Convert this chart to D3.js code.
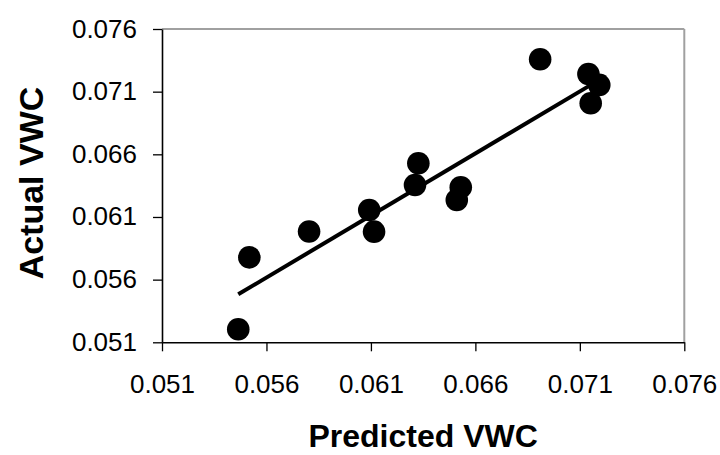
<!DOCTYPE html>
<html><head><meta charset="utf-8">
<script src="https://cdn.jsdelivr.net/npm/d3@7"></script>
<style>html,body{margin:0;padding:0;background:#fff;}svg{display:block;}</style>
</head><body>
<script>
const predicted = [0.05465,0.05518,0.05804,0.06092,0.06115,0.06327,0.06311,0.06530,0.06511,0.06910,0.07141,0.07193,0.07152];
const actual    = [0.05204,0.05778,0.05984,0.06156,0.05983,0.06529,0.06355,0.06337,0.06236,0.07359,0.07241,0.07154,0.07007];
const trendX = [0.05465, 0.07193];
const trendY = [0.05483, 0.07194];
const tickValues = [0.051,0.056,0.061,0.066,0.071,0.076];
const tickLabels = ["0.051","0.056","0.061","0.066","0.071","0.076"];

const W=720,H=455;
const L=162,R=684.3,T=29,B=342.3;
const svg=d3.select("body").append("svg").attr("width",W).attr("height",H);
const x=d3.scaleLinear().domain([0.051,0.076]).range([L,R]);
const y=d3.scaleLinear().domain([0.051,0.076]).range([B,T]);
const font="Liberation Sans, Arial, sans-serif";

// frame top/right gray
svg.append("line").attr("x1",L).attr("x2",R).attr("y1",T).attr("y2",T).attr("stroke","#a0a0a0").attr("stroke-width",2);
svg.append("line").attr("x1",R).attr("x2",R).attr("y1",T).attr("y2",B).attr("stroke","#a0a0a0").attr("stroke-width",2);

const xAxis=svg.append("g").attr("transform",`translate(0,${B})`)
  .call(d3.axisBottom(x).tickValues(tickValues).tickFormat((d,i)=>tickLabels[i]).tickSize(9).tickSizeOuter(0).tickPadding(14));
const yAxis=svg.append("g").attr("transform",`translate(${L},0)`)
  .call(d3.axisLeft(y).tickValues(tickValues).tickFormat((d,i)=>tickLabels[i]).tickSize(9).tickSizeOuter(0).tickPadding(16));
[xAxis,yAxis].forEach(g=>{
  g.select(".domain").attr("stroke","#000").attr("stroke-width",1.6);
  g.selectAll(".tick line").attr("stroke","#000").attr("stroke-width",1.3);
  g.selectAll(".tick text").attr("font-family",font).attr("font-size",26).attr("fill","#000");
});
xAxis.selectAll(".tick text").attr("y",51).attr("dy",0);
yAxis.selectAll(".tick text").attr("dy",8);

// trend line
svg.append("line")
  .attr("x1",x(trendX[0])).attr("y1",y(trendY[0]))
  .attr("x2",x(trendX[1])).attr("y2",y(trendY[1]))
  .attr("stroke","#000").attr("stroke-width",4);

// points
svg.append("g").selectAll("circle").data(predicted.map((p,i)=>[p,actual[i]])).join("circle")
  .attr("cx",d=>x(d[0])).attr("cy",d=>y(d[1])).attr("r",11.3).attr("fill","#000");

svg.append("text").attr("x",(L+R)/2).attr("y",447).attr("text-anchor","middle")
  .attr("font-family",font).attr("font-weight","bold").attr("font-size",32).text("Predicted VWC");
svg.append("text").attr("transform","translate(43,183) rotate(-90)").attr("text-anchor","middle")
  .attr("font-family",font).attr("font-weight","bold").attr("font-size",34).text("Actual VWC");
</script>
</body></html>
